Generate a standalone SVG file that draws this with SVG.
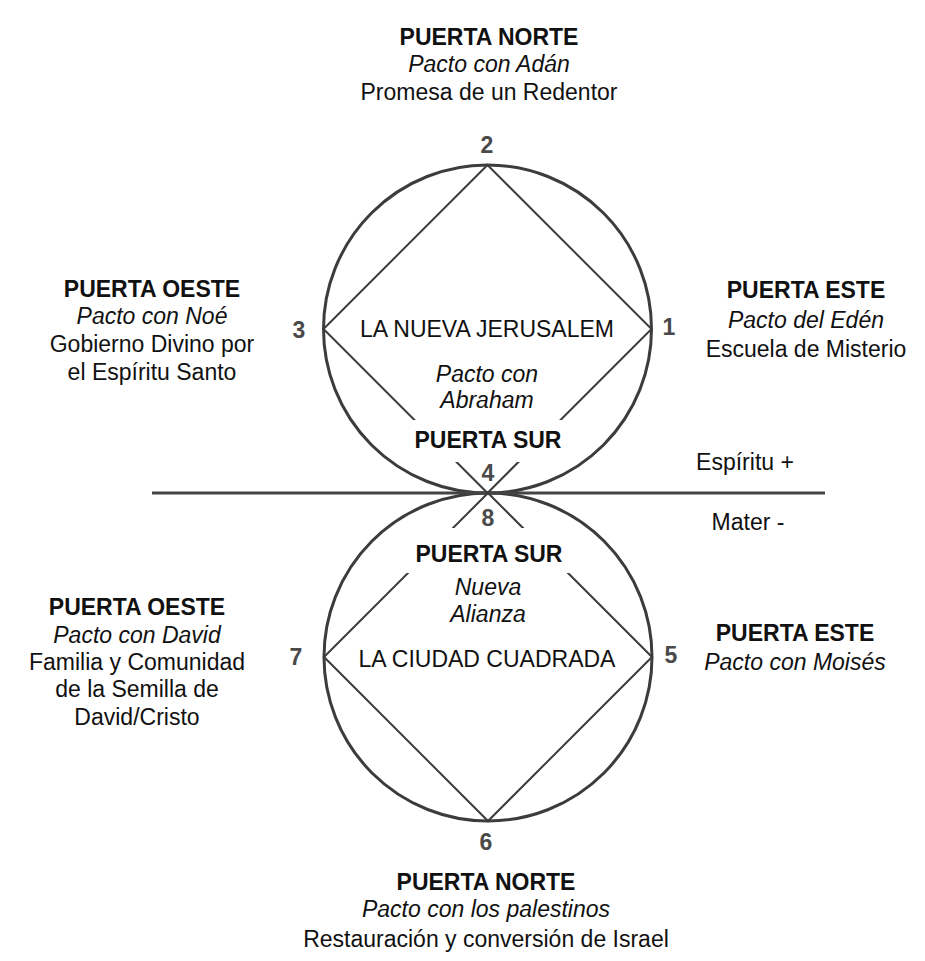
<svg xmlns="http://www.w3.org/2000/svg" width="925" height="961" viewBox="0 0 925 961">
<style>
.b{font-family:"Liberation Sans",Arial,sans-serif;font-weight:bold;font-size:23px;fill:#111;text-anchor:middle}
.r{font-family:"Liberation Sans",Arial,sans-serif;font-size:23px;fill:#111;text-anchor:middle}
.i{font-family:"Liberation Sans",Arial,sans-serif;font-style:italic;font-size:23px;fill:#111;text-anchor:middle}
.n{font-family:"Liberation Sans",Arial,sans-serif;font-weight:bold;font-size:23px;fill:#4a4a4a;text-anchor:middle}
.c{fill:none;stroke:#3c3c3c;stroke-width:3}
.l{stroke:#3c3c3c;stroke-width:2;fill:none}
.bg{fill:#fff}
</style>
<rect width="925" height="961" fill="#fff"/>
<g id="connectors">
<circle class="c" cx="487.5" cy="329" r="164"/>
<circle class="c" cx="488" cy="657" r="164"/>
<line x1="152" y1="493" x2="825" y2="493" stroke="#444" stroke-width="3"/>
<path class="l" d="M487.5,165 L651.5,329 L487.5,493 L323.5,329 Z"/>
<path class="l" d="M488,493 L652,657 L488,821 L324,657 Z"/>
</g>
<g id="masks">
<rect class="bg" x="406" y="420" width="166" height="42"/>
<rect class="bg" x="406" y="528" width="168" height="45"/>
</g>
<g id="norte-1">
<text class="b" x="489" y="45">PUERTA NORTE</text>
<text class="i" x="489" y="72">Pacto con Adán</text>
<text class="r" x="489" y="100">Promesa de un Redentor</text>
</g>
<g id="oeste-1">
<text class="b" x="152" y="297">PUERTA OESTE</text>
<text class="i" x="152" y="324">Pacto con Noé</text>
<text class="r" x="152" y="352">Gobierno Divino por</text>
<text class="r" x="152" y="380">el Espíritu Santo</text>
</g>
<g id="este-1">
<text class="b" x="806" y="298">PUERTA ESTE</text>
<text class="i" x="806" y="328">Pacto del Edén</text>
<text class="r" x="806" y="357">Escuela de Misterio</text>
</g>
<g id="jerusalem">
<text class="r" x="487" y="337">LA NUEVA JERUSALEM</text>
<text class="i" x="487" y="382">Pacto con</text>
<text class="i" x="487" y="408">Abraham</text>
</g>
<g id="sur-1">
<text class="b" x="488" y="448">PUERTA SUR</text>
</g>
<g id="sur-2">
<text class="b" x="489" y="562">PUERTA SUR</text>
<text class="i" x="488" y="595">Nueva</text>
<text class="i" x="488" y="622">Alianza</text>
</g>
<g id="ciudad">
<text class="r" x="487" y="667">LA CIUDAD CUADRADA</text>
</g>
<g id="espiritu">
<text class="r" x="745" y="470">Espíritu +</text>
<text class="r" x="748" y="530">Mater -</text>
</g>
<g id="oeste-2">
<text class="b" x="137" y="615">PUERTA OESTE</text>
<text class="i" x="137" y="643">Pacto con David</text>
<text class="r" x="137" y="670">Familia y Comunidad</text>
<text class="r" x="137" y="697">de la Semilla de</text>
<text class="r" x="137" y="725">David/Cristo</text>
</g>
<g id="este-2">
<text class="b" x="795" y="641">PUERTA ESTE</text>
<text class="i" x="795" y="670">Pacto con Moisés</text>
</g>
<g id="norte-2">
<text class="b" x="486" y="890">PUERTA NORTE</text>
<text class="i" x="486" y="917">Pacto con los palestinos</text>
<text class="r" x="486" y="947">Restauración y conversión de Israel</text>
</g>
<g id="numbers">
<text class="n" x="487" y="153">2</text>
<text class="n" x="299" y="338">3</text>
<text class="n" x="669" y="335">1</text>
<text class="n" x="488" y="481">4</text>
<text class="n" x="488" y="526">8</text>
<text class="n" x="296" y="665">7</text>
<text class="n" x="671" y="663">5</text>
<text class="n" x="486" y="850">6</text>
</g>
</svg>
